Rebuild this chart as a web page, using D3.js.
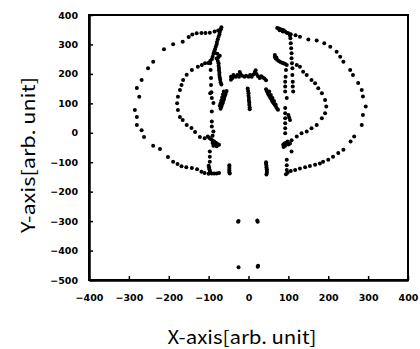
<!DOCTYPE html>
<html>
<head>
<meta charset="utf-8">
<script src="https://cdn.jsdelivr.net/npm/d3@7"></script>
<style>
  body { margin: 0; background: #fff; }
  .tick text { font-family: "DejaVu Sans", sans-serif; font-weight: bold; font-size: 9.5px; }
  .title { font-family: "Noto Sans CJK JP", sans-serif; font-size: 18px; }
</style>
</head>
<body>
<script>
const width = 420;
const height = 349;

// tick labels
const xTicks = [-400, -300, -200, -100, 0, 100, 200, 300, 400];
const yTicks = [400, 300, 200, 100, 0, -100, -200, -300, -400, -500];

// point groups [x, y]
const outerLeft = [[-70,352],[-76,347],[-85,344],[-97,340],[-108,339],[-118,339],[-130,338],[-141,334],[-150,325],[-165,309],[-189,301],[-212,284],[-239,241],[-252,219],[-268,179],[-280,152],[-274,122],[-285,77],[-280,54],[-280,26],[-268,9],[-262,-14],[-239,-44],[-222,-55],[-202,-82],[-189,-98],[-178,-106],[-168,-114],[-156,-117],[-142,-120],[-129,-124],[-118,-132],[-110,-137],[-100,-139]];
const outerRight = [[106,335],[118,331],[129,326],[150,317],[171,313],[190,304],[205,292],[221,275],[230,258],[238,241],[255,213],[262,196],[275,169],[284,145],[287,123],[294,89],[287,60],[284,26],[265,-13],[256,-30],[238,-58],[225,-69],[212,-81],[200,-92],[187,-98],[179,-104],[167,-109],[154,-113],[142,-117],[129,-121],[117,-126],[106,-130],[98,-136],[94,-141]];
const innerLeft = [[-101,237],[-109,236],[-117,230],[-127,224],[-142,213],[-155,197],[-164,179],[-168,162],[-172,145],[-177,122],[-179,100],[-177,77],[-172,54],[-165,43],[-155,26],[-143,16],[-134,3],[-122,-14],[-110,-19]];
const innerRight = [[121,230],[129,224],[137,207],[146,196],[158,179],[167,168],[175,151],[184,134],[192,111],[195,89],[192,66],[184,49],[171,26],[158,15],[146,4],[133,-2],[121,-13],[108,-25]];
const leftColumn = [[-96,236],[-95,213],[-94,186],[-94,162],[-93,138],[-96,134],[-92,118],[-88,101],[-92,72],[-92,38],[-92,21],[-88,4],[-97,-64],[-97,-81],[-97,-98]];
const rightColumn = [[104,330],[105,321],[106,304],[107,287],[108,270],[108,253],[109,236],[110,219],[110,196],[111,173],[111,157],[112,140],[94,213],[93,190],[92,173],[92,157],[92,140],[96,118],[92,84],[92,66],[92,49],[92,32],[92,15],[92,-2],[108,-64],[96,-92],[96,-110],[96,-126],[100,60],[102,52],[104,43]];
const leftStrokes = [[-68,358],[-70,350],[-72,342],[-73,334],[-75,326],[-77,318],[-79,308],[-80,300],[-82,292],[-84,284],[-86,276],[-88,268],[-90,258],[-92,250],[-96,244],
  [-84,271],[-78,268],[-72,262],[-76,256],[-80,252],[-77,244],[-75,236],[-75,228],[-74,220],[-74,212],[-73,204],[-73,196],[-72,188],[-71,180],[-70,172],[-68,164],
  [-55,142],[-57,136],[-58,130],[-60,124],[-61,118],[-62,112],[-64,106],[-65,100],[-67,94],[-68,88],[-70,82],[-62,140],[-64,130],[-66,120],[-68,110],[-70,100],[-72,92]];
const centerStrokes = [[-44,190],[-44,180],[-40,186],[-38,196],[-32,190],[-28,196],[-24,190],[-22,206],[-20,200],[-16,194],[-10,190],[-6,194],[0,190],[4,196],[8,190],[12,198],[16,206],[18,212],[20,200],[24,192],[28,186],[32,192],[36,188],[40,184],[44,178],
  [-2,150],[-1,142],[0,134],[0,126],[1,118],[1,110],[2,102],[2,94],[3,86],[3,80],
  [44,148],[46,142],[48,136],[50,130],[53,124],[55,118],[58,112],[60,106],[63,100],[66,94],[69,88],[72,82],[74,78],[52,140],[56,128],[60,118],[64,108],[68,96]];
const rightStrokes = [[72,356],[76,354],[80,352],[84,350],[88,348],[92,344],[96,340],[100,338],[78,348],[86,344],
  [66,264],[66,258],[68,252],[72,248],[76,244],[80,240],[84,238],[88,236],[92,234],[96,230],[70,256]];
const crossMarks = [[-102,-13],[-98,-18],[-94,-22],[-90,-26],[-86,-30],[-82,-34],[-78,-38],[-74,-41],[-90,-10],[-90,-35],[-88,-44],[-84,-42],[-80,-46],
  [87,-41],[90,-36],[94,-34],[98,-30],[88,-48],[92,-44],[100,-40],[104,-36]];
const lowerBars = [[-100,-112],[-99,-118],[-98,-124],[-97,-130],[-96,-136],[-92,-138],[-86,-138],[-80,-138],[-74,-137],
  [-48,-110],[-48,-116],[-48,-122],[-48,-128],[-48,-134],[-47,-138],
  [44,-100],[44,-106],[45,-112],[45,-118],[46,-124],[46,-130],[46,-136],[45,-142]];
const bottomDots = [[-26,-302],[-25,-300],[22,-298],[23,-302],[-25,-457],[23,-455],[24,-452]];

const groups = [outerLeft, outerRight, innerLeft, innerRight, leftColumn, rightColumn,
  leftStrokes, centerStrokes, rightStrokes, crossMarks, lowerBars, bottomDots];

const svg = d3.select("body").append("svg")
  .attr("width", width)
  .attr("height", height);

const x = d3.scaleLinear().domain([-400, 400]).range([89, 408]);
const y = d3.scaleLinear().domain([-500, 400]).range([280, 15]);

// frame
svg.append("rect")
  .attr("x", x(-400)).attr("y", y(400))
  .attr("width", x(400) - x(-400)).attr("height", y(-500) - y(400))
  .attr("fill", "none").attr("stroke", "#000").attr("stroke-width", 2);

// axes
const xAxis = svg.append("g")
  .attr("transform", `translate(0,${y(-500)})`)
  .call(d3.axisBottom(x).tickValues(xTicks).tickSizeInner(-4).tickSizeOuter(0).tickPadding(14));
const yAxis = svg.append("g")
  .attr("transform", `translate(${x(-400)},0)`)
  .call(d3.axisLeft(y).tickValues(yTicks).tickSizeInner(-4).tickSizeOuter(0).tickPadding(11));
[xAxis, yAxis].forEach((g) => {
  g.select(".domain").attr("stroke-width", 2.5);
  g.selectAll(".tick line").attr("stroke-width", 1.5);
  g.selectAll(".tick text").attr("fill", "#000");
});

// points
groups.forEach((pts) => {
  svg.append("g")
    .selectAll("circle")
    .data(pts)
    .enter()
    .append("circle")
    .attr("cx", (d) => x(d[0]))
    .attr("cy", (d) => y(d[1]))
    .attr("r", 2)
    .attr("fill", "#000");
});

// titles
svg.append("text")
  .attr("class", "title")
  .attr("x", 242).attr("y", 344)
  .attr("text-anchor", "middle")
  .attr("textLength", 149)
  .attr("lengthAdjust", "spacingAndGlyphs")
  .text("X-axis[arb. unit]");
svg.append("text")
  .attr("class", "title")
  .attr("transform", "translate(35,155) rotate(-90)")
  .attr("text-anchor", "middle")
  .attr("textLength", 156)
  .attr("lengthAdjust", "spacingAndGlyphs")
  .text("Y-axis[arb. unit]");
</script>
</body>
</html>
